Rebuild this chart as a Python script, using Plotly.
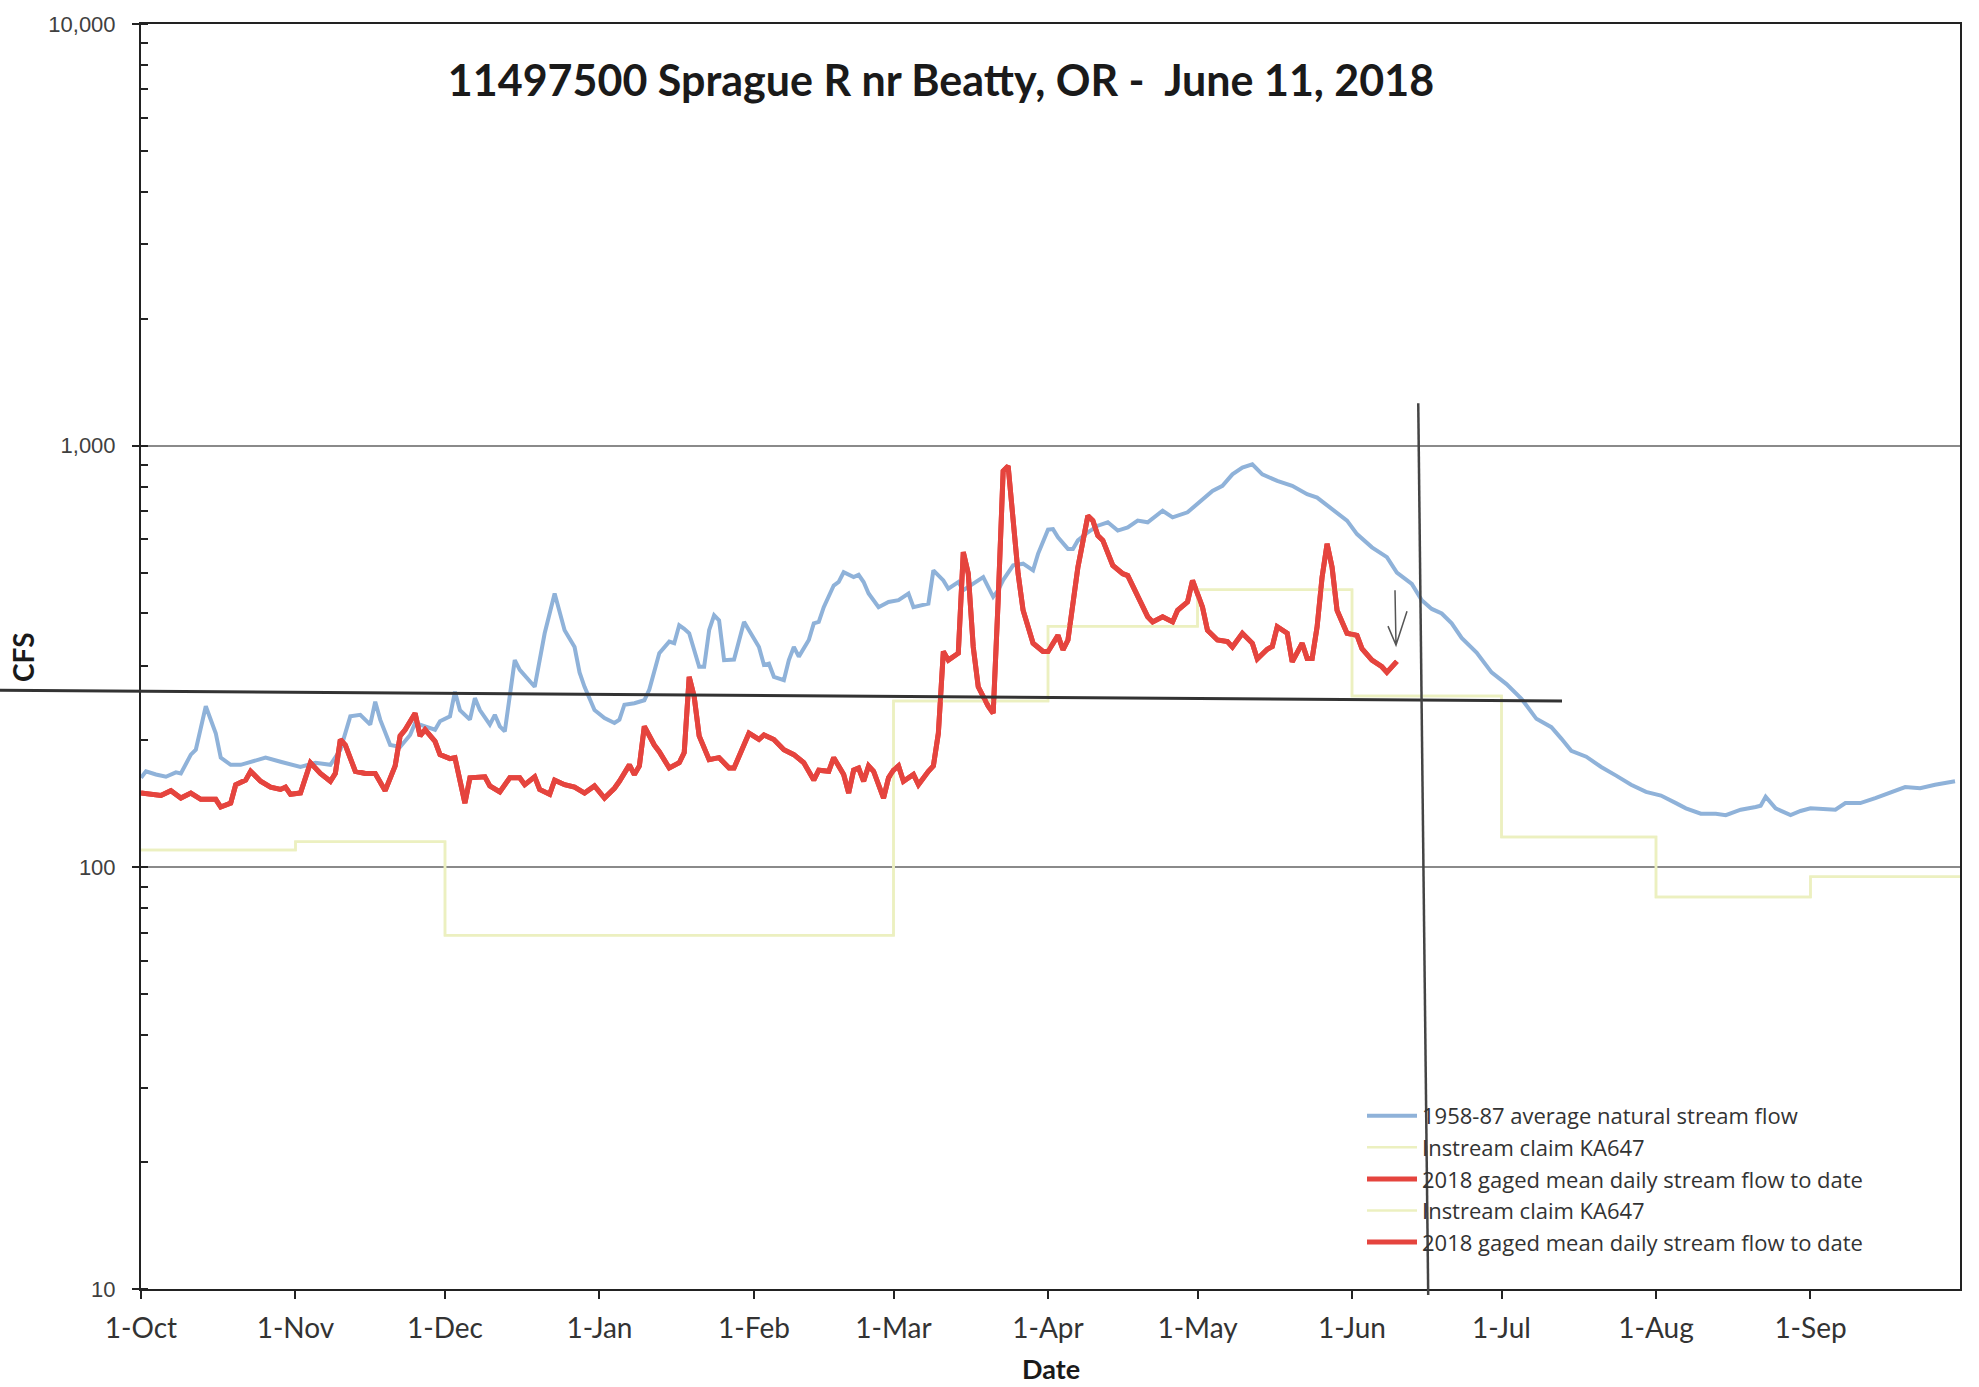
import math
import pandas as pd
import plotly.graph_objects as go

# ---------------- data ----------------
START = "2017-10-01"  # day 0 of the water year

AVG_DAYS = [0, 1, 3, 5, 7, 8, 10, 11, 13, 15, 16, 18, 20, 22, 25, 28, 30, 32, 35, 38,
            40, 42, 44, 46, 47, 48, 50, 52, 54, 55, 57, 59, 60, 62, 63, 64, 66, 67, 68, 70,
            71, 72, 73, 75, 76, 79, 81, 83, 85, 87, 88, 89, 91, 93, 95, 96, 97, 99, 101, 102,
            104, 106, 107, 108, 109, 110, 112, 113, 114, 115, 116, 117, 119, 121, 122, 124, 125, 126, 127, 129,
            130, 131, 132, 134, 135, 136, 137, 139, 140, 141, 143, 144, 145, 146, 148, 150, 152, 154, 155, 158,
            159, 161, 162, 164, 165, 167, 169, 171, 172, 173, 175, 177, 178, 179, 180, 182, 183, 184, 186, 187,
            188, 190, 192, 194, 196, 198, 200, 202, 205, 207, 210, 212, 215, 217, 219, 221, 223, 225, 228, 231,
            234, 236, 239, 242, 244, 247, 250, 252, 255, 257, 259, 261, 263, 265, 268, 271, 274, 277, 280, 283,
            285, 287, 290, 293, 296, 299, 302, 305, 308, 310, 313, 316, 318, 321, 324, 325, 326, 328, 331, 333,
            335, 338, 340, 342, 345, 348, 351, 354, 357, 360, 364]
AVG_CFS = [163, 169, 166, 164, 168, 167, 185, 190, 241, 208, 182, 175, 175, 178, 182, 178, 175, 173, 177, 175,
           190, 228, 230, 218, 247, 224, 195, 193, 206, 220, 216, 212, 222, 228, 261, 236, 224, 252, 236, 218,
           230, 216, 210, 310, 294, 268, 359, 446, 365, 333, 290, 268, 236, 226, 220, 224, 243, 245, 249, 264,
           322, 343, 340, 375, 368, 359, 299, 299, 365, 396, 385, 310, 311, 382, 365, 333, 302, 304, 283, 278,
           310, 333, 316, 346, 379, 382, 414, 466, 475, 501, 488, 494, 475, 446, 414, 426, 430, 446, 414, 422,
           506, 479, 458, 475, 454, 471, 488, 438, 454, 480, 520, 525, 515, 506, 554, 632, 634, 606, 569, 569,
           596, 623, 646, 658, 629, 640, 664, 658, 701, 676, 695, 727, 781, 803, 855, 887, 903, 855, 825, 803,
           767, 753, 707, 664, 617, 574, 544, 500, 470, 430, 410, 400, 379, 350, 323, 290, 272, 251, 225, 215,
           202, 189, 183, 173, 165, 157, 151, 148, 142, 138, 134, 134, 133, 137, 139, 140, 147, 138, 133, 136,
           138, 137, 137, 142, 142, 146, 150, 155, 154, 157, 160]

GAGED_DAYS = [0, 2, 4, 6, 8, 10, 12, 15, 16, 18, 19, 21, 22, 24, 26, 28, 29, 30, 32, 34,
              36, 38, 39, 40, 41, 43, 45, 47, 49, 51, 52, 53, 55, 56, 57, 59, 60, 62, 63, 65,
              66, 69, 70, 72, 74, 76, 77, 79, 80, 82, 83, 85, 87, 89, 91, 93, 95, 96, 98, 99,
              100, 101, 103, 104, 106, 108, 109, 110, 111, 112, 114, 116, 118, 119, 121, 122, 124, 125, 127, 129,
              131, 133, 135, 136, 138, 139, 141, 142, 143, 144, 145, 146, 147, 149, 150, 151, 152, 153, 155, 156,
              158, 159, 160, 161, 162, 164, 165, 166, 167, 168, 170, 171, 172, 173, 174, 175, 176, 177, 178, 179,
              181, 182, 184, 185, 186, 188, 190, 191, 192, 193, 195, 197, 198, 200, 202, 203, 205, 207, 208, 210,
              211, 213, 214, 216, 218, 219, 221, 223, 224, 226, 227, 228, 230, 231, 233, 234, 235, 236, 237, 238,
              239, 240, 242, 244, 245, 247, 249, 250, 251, 252]
GAGED_CFS = [150, 149, 148, 152, 146, 150, 145, 145, 139, 142, 157, 161, 169, 160, 155, 153, 155, 149, 150, 177,
             167, 160, 167, 201, 195, 169, 167, 167, 152, 174, 205, 212, 232, 205, 212, 199, 185, 181, 182, 142,
             163, 164, 156, 151, 163, 163, 157, 164, 153, 149, 161, 157, 155, 150, 156, 146, 154, 160, 175, 166,
             174, 216, 195, 188, 172, 177, 187, 283, 254, 205, 180, 182, 172, 172, 197, 208, 201, 206, 201, 190,
             185, 177, 161, 170, 169, 182, 166, 150, 170, 172, 160, 174, 169, 146, 163, 170, 174, 160, 166, 157,
             169, 174, 208, 325, 310, 322, 559, 497, 333, 268, 241, 232, 430, 871, 895, 640, 497, 407, 372, 340,
             325, 325, 355, 328, 346, 515, 682, 664, 612, 596, 520, 497, 492, 438, 393, 382, 393, 382, 407, 426,
             479, 414, 365, 346, 343, 333, 359, 340, 312, 329, 334, 372, 359, 307, 340, 313, 313, 372, 488, 585,
             515, 407, 359, 355, 330, 310, 299, 290, 299, 308]

CLAIM_DATES = ["2017-10-01", "2017-11-01", "2017-12-01", "2018-03-01", "2018-04-01", "2018-05-01",
               "2018-06-01", "2018-07-01", "2018-08-01", "2018-09-01", "2018-10-01"]
CLAIM_CFS = [110, 115, 69, 248, 373, 455, 255, 118, 85, 95, 95]

MONTH_TICKS = ["2017-10-01", "2017-11-01", "2017-12-01", "2018-01-01", "2018-02-01", "2018-03-01",
               "2018-04-01", "2018-05-01", "2018-06-01", "2018-07-01", "2018-08-01", "2018-09-01"]
MONTH_LABELS = ["1-Oct", "1-Nov", "1-Dec", "1-Jan", "1-Feb", "1-Mar",
                "1-Apr", "1-May", "1-Jun", "1-Jul", "1-Aug", "1-Sep"]
Y_TICKS = [10, 100, 1000, 10000]
Y_LABELS = ["10", "100", "1,000", "10,000"]

NAMES = ["1958-87 average natural stream flow", "Instream claim KA647",
         "2018 gaged mean daily stream flow to date"]
TITLE = "11497500 Sprague R nr Beatty, OR -\u00a0 June 11, 2018"

# ---------------- styling ----------------
BLUE = "#8FB2D9"
RED = "#E5443E"
YELLOW = "#ECF0C0"
INK = "#333333"
FONT = "Lato"

base = pd.Timestamp(START)
avg_x = base + pd.to_timedelta(AVG_DAYS, unit="D")
gaged_x = base + pd.to_timedelta(GAGED_DAYS, unit="D")
claim_x = pd.to_datetime(CLAIM_DATES)

fig = go.Figure()
fig.add_trace(go.Scatter(x=avg_x, y=AVG_CFS, mode="lines", name=NAMES[0],
                         line=dict(color=BLUE, width=4)))
fig.add_trace(go.Scatter(x=claim_x, y=CLAIM_CFS, mode="lines", name=NAMES[1],
                         line=dict(color=YELLOW, width=2.5, shape="hv")))
fig.add_trace(go.Scatter(x=gaged_x, y=GAGED_CFS, mode="lines", name=NAMES[2],
                         line=dict(color=RED, width=5)))
fig.add_trace(go.Scatter(x=claim_x, y=CLAIM_CFS, mode="lines", name=NAMES[1],
                         line=dict(color=YELLOW, width=2.5, shape="hv")))
fig.add_trace(go.Scatter(x=gaged_x, y=GAGED_CFS, mode="lines", name=NAMES[2],
                         line=dict(color=RED, width=5)))

W, H = 1979, 1387
L, R, T, B = 141, 19, 18, 98
PW, PH = W - L - R, H - T - B


def px(xpix):
    return (xpix - L) / PW


def py(ypix):
    return (H - B - ypix) / PH


def pv(cfs):
    return (math.log10(cfs) - 1) / 3


shapes = [
    # hand-drawn horizontal pen line
    dict(type="line", xref="paper", yref="paper", x0=px(0), x1=px(1562),
         y0=pv(263), y1=pv(248), line=dict(color=INK, width=3)),
    # hand-drawn vertical pen line
    dict(type="line", xref="x", yref="paper", x0="2018-06-14 07:00", x1="2018-06-16 07:00",
         y0=pv(1260), y1=py(1295), line=dict(color="#444444", width=2.5)),
    # hand-drawn arrow
    dict(type="path", xref="paper", yref="paper",
         path=f"M{px(1395)},{py(587)} L{px(1396)},{py(642)} M{px(1388)},{py(623)} "
              f"L{px(1396)},{py(642)} L{px(1407)},{py(608)}",
         line=dict(color="#555555", width=1.5)),
]

fig.update_layout(
    width=W, height=H,
    margin=dict(l=L, r=R, t=T, b=B),
    paper_bgcolor="white", plot_bgcolor="white",
    font=dict(family=FONT, color="#333333"),
    title=dict(text=f"<b>{TITLE}</b>", font=dict(family=FONT, size=43, color="#1a1a1a"),
               xref="container", x=941 / W, xanchor="center",
               yref="container", y=1 - 81 / H, yanchor="middle"),
    showlegend=True,
    legend=dict(x=px(1362), y=py(1094), xanchor="left", yanchor="top",
                bgcolor="rgba(0,0,0,0)", font=dict(family="Open Sans", size=22, color="#333333"),
                itemwidth=50, traceorder="normal"),
    shapes=shapes,
    annotations=[
        dict(text="<b>CFS</b>", xref="paper", yref="paper", x=px(23), y=py(654),
             textangle=-90, showarrow=False, font=dict(family=FONT, size=28, color="#1a1a1a"),
             xanchor="center", yanchor="middle"),
        dict(text="<b>Date</b>", xref="paper", yref="paper", x=px(1051), y=py(1369),
             showarrow=False, font=dict(family=FONT, size=27, color="#1a1a1a"),
             xanchor="center", yanchor="middle"),
    ],
)

fig.update_xaxes(
    type="date", range=["2017-10-01", "2018-10-01"],
    tickvals=pd.to_datetime(MONTH_TICKS), ticktext=MONTH_LABELS,
    ticks="outside", ticklen=8, tickwidth=1.5, tickcolor="#222222",
    tickfont=dict(family=FONT, size=28, color="#333333"),
    ticklabelstandoff=5,
    showline=True, linecolor="#222222", linewidth=2, mirror=True,
    showgrid=False, zeroline=False,
)
fig.update_yaxes(
    type="log", range=[1, 4],
    tickvals=Y_TICKS, ticktext=Y_LABELS,
    ticks="outside", ticklen=7, tickwidth=1.5, tickcolor="#222222",
    tickfont=dict(family="Liberation Sans", size=22, color="#404040"),
    ticklabelstandoff=12,
    minor=dict(ticks="inside", ticklen=7, tickwidth=1.5, tickcolor="#222222",
               dtick="D1", showgrid=False),
    showline=True, linecolor="#222222", linewidth=2, mirror=True,
    showgrid=True, gridcolor="#8a8a8a", gridwidth=1.5,
    zeroline=False,
)

fig.write_html("out.html", config={"displayModeBar": False},
               post_script="document.body.style.margin='0';")
